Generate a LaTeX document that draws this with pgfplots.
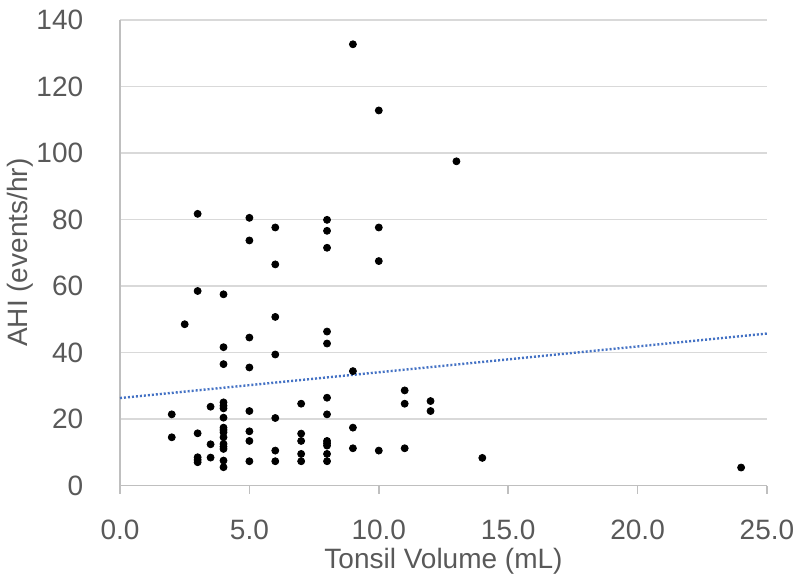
\documentclass[border=0pt]{standalone}
\usepackage{fontspec}
\setmainfont{Liberation Sans}
\usepackage{pgfplots}
\pgfplotsset{compat=1.18}
\definecolor{txtgray}{HTML}{595959}
\definecolor{gridgray}{HTML}{D9D9D9}
\definecolor{axgray}{HTML}{BFBFBF}
\definecolor{trendblue}{HTML}{4472C4}

\begin{document}
\begin{tikzpicture}
% page frame: 800x585 px at 0.5pt per px
\path[use as bounding box] (-60pt,-49.75pt) rectangle (340pt,242.75pt);
\begin{axis}[
    scale only axis,
    width=323.5pt, height=232.75pt,
    xmin=0, xmax=25, ymin=0, ymax=140,
    xtick={0,5,...,25}, ytick={0,20,...,140},
    axis lines*=left,
    axis line style={axgray, line width=0.75pt},
    ymajorgrids,
    grid style={gridgray, line width=0.75pt},
    ytick style={draw=none},
    xtick style={axgray, line width=0.75pt},
    tick align=outside, major tick length=4pt,
    font=\fontsize{14}{16}\selectfont,
    /pgf/number format/assume math mode=true,
    xticklabel style={/pgf/number format/.cd, fixed, fixed zerofill, precision=1, /tikz/.cd,
        text=txtgray, inner sep=0pt, anchor=center, yshift=-18.25pt},
    yticklabel style={text=txtgray, inner sep=0pt, anchor=east, xshift=-14.2pt},
    xlabel={Tonsil Volume (mL)},
    ylabel={AHI (events/hr)},
    xlabel style={text=txtgray, inner sep=0pt, at={(axis description cs:0.5,-0.163)}, anchor=center},
    ylabel style={text=txtgray, inner sep=0pt, at={(axis description cs:-0.1546,0.5)}, anchor=center, rotate=0},
    clip=false,
]
\addplot[only marks, mark=*, mark size=1.75pt, black] coordinates {
    (2,21.4) (2,14.5)
    (2.5,48.5)
    (3,81.7) (3,58.5) (3,15.7) (3,8.5) (3,7.7) (3,7.0)
    (3.5,23.7) (3.5,12.4) (3.5,8.4)
    (4,57.5) (4,41.6) (4,36.5) (4,25.0) (4,24.0) (4,23.2) (4,20.4) (4,17.4) (4,16.7)
    (4,16.0) (4,14.5) (4,12.5) (4,11.7) (4,11.0) (4,7.5) (4,5.5)
    (5,80.5) (5,73.7) (5,44.5) (5,35.5) (5,22.4) (5,16.3) (5,13.4) (5,7.3)
    (6,77.6) (6,66.5) (6,50.7) (6,39.4) (6,20.3) (6,10.5) (6,7.3)
    (7,24.6) (7,15.6) (7,13.4) (7,9.5) (7,7.3)
    (8,79.9) (8,76.6) (8,71.5) (8,46.3) (8,42.7) (8,26.4) (8,21.4) (8,13.4) (8,12.7)
    (8,12.0) (8,9.5) (8,7.3)
    (9,132.7) (9,34.4) (9,17.4) (9,11.2)
    (10,112.8) (10,77.6) (10,67.5) (10,10.5)
    (11,28.6) (11,24.6) (11,11.2)
    (12,25.4) (12,22.4)
    (13,97.5)
    (14,8.3)
    (24,5.4)
};
% linear trend line
\addplot[trendblue, line width=1.2pt, dash pattern=on 1pt off 1pt] coordinates {(0,26.3) (25,45.7)};
\end{axis}
\end{tikzpicture}
\end{document}
